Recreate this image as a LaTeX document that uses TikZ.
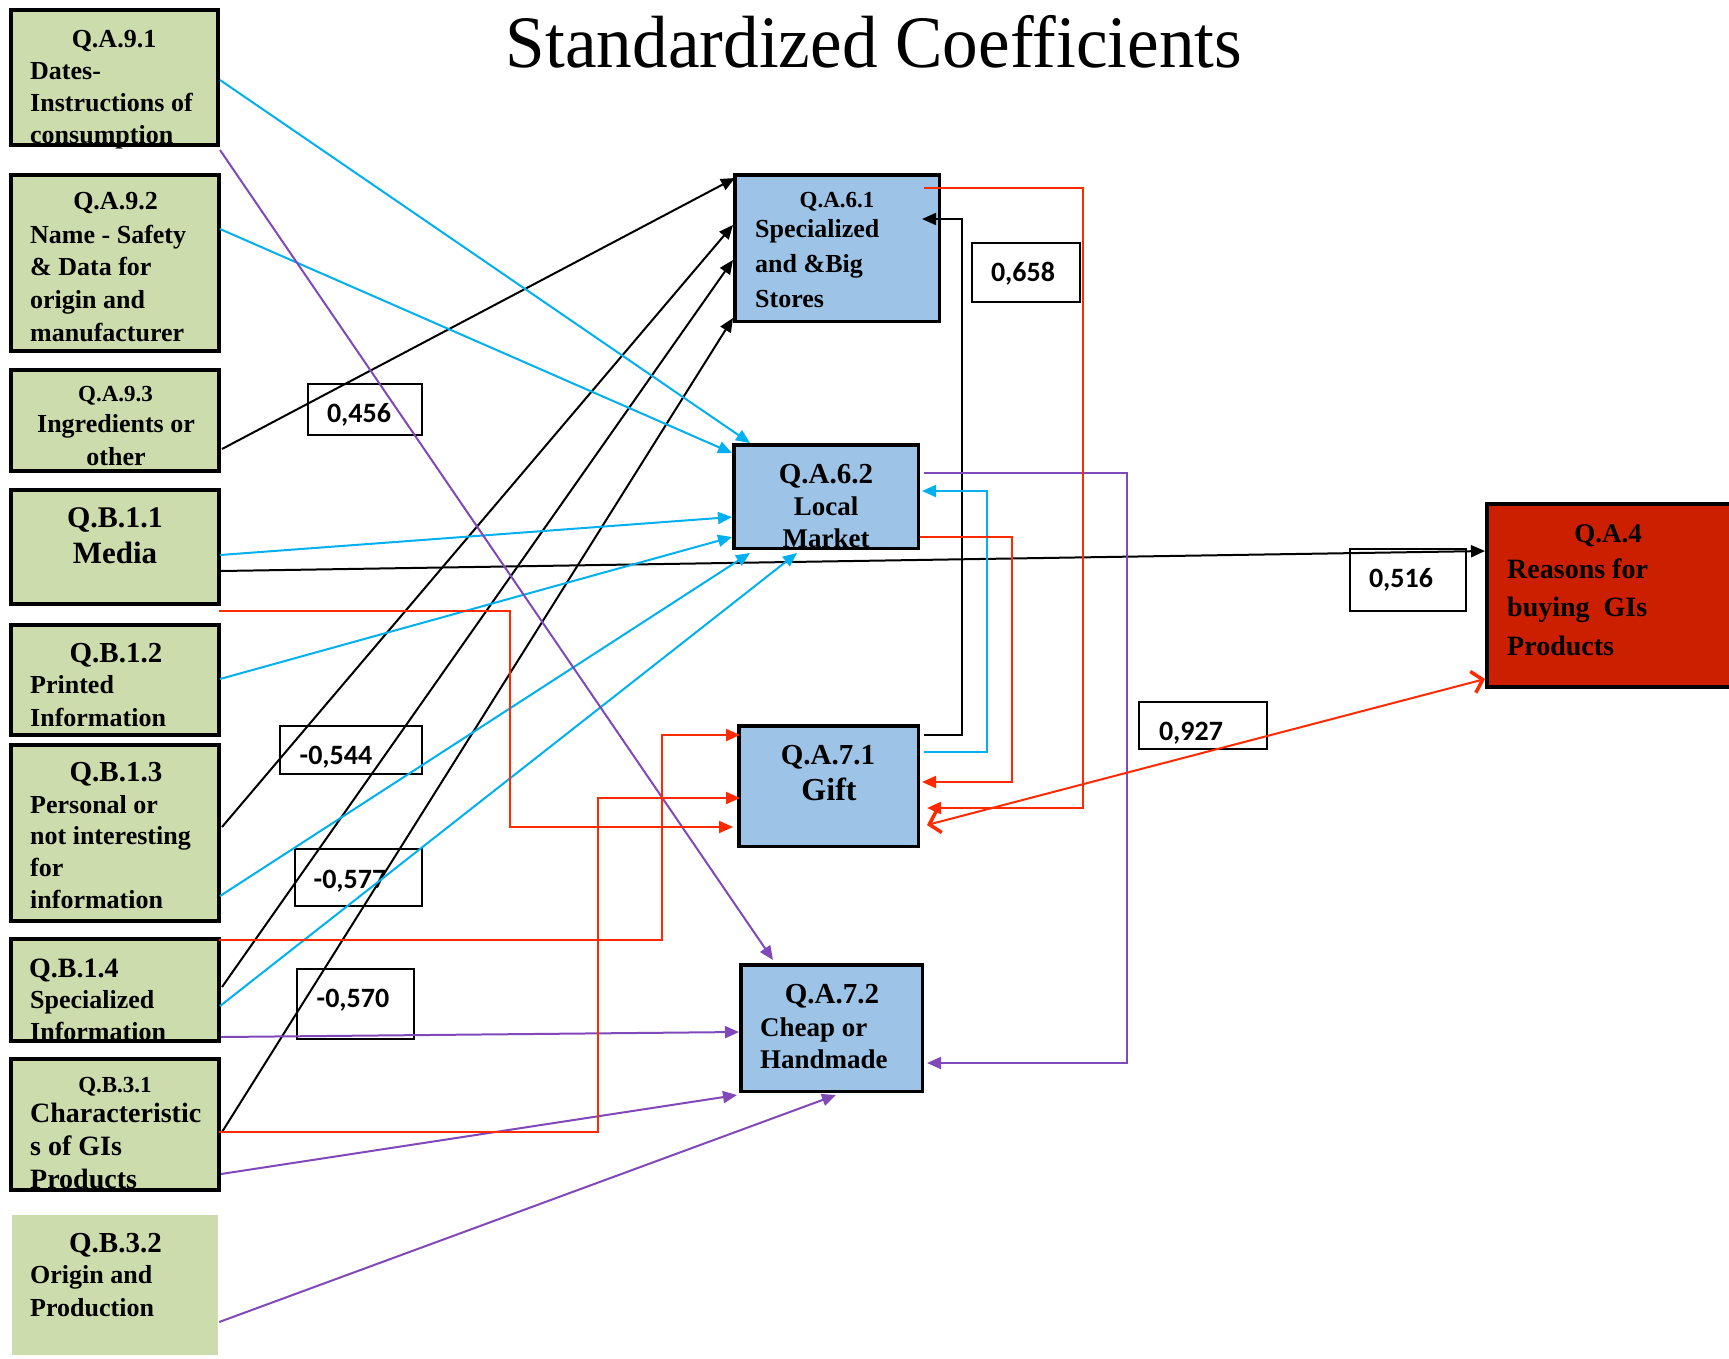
\documentclass[tikz,border=0pt]{standalone}
\usepackage{fontspec}
\usepackage{graphicx}
\setmainfont{Liberation Serif}
\newfontfamily\lblfont{Carlito}
\usetikzlibrary{arrows.meta,calc}
\definecolor{boxgreen}{RGB}{205,220,172}
\definecolor{boxblue}{RGB}{157,195,230}
\definecolor{boxred}{RGB}{204,31,0}
\definecolor{lcyan}{RGB}{0,176,240}
\definecolor{lpurple}{RGB}{128,72,184}
\definecolor{lred}{RGB}{255,42,0}
\newcommand\fsz[2]{\fontsize{#1}{#2}\selectfont}
\newcommand\llines[1]{\begin{tabular}[t]{@{}l@{}}#1\end{tabular}}
\newcommand\clines[1]{\begin{tabular}[t]{@{}c@{}}#1\end{tabular}}
\begin{document}
\begin{tikzpicture}[x=1pt,y=-1pt,
  gbox/.style={draw=black,line width=4pt,fill=boxgreen,inner sep=0pt},
  bbox/.style={draw=black,line width=3.5pt,fill=boxblue,inner sep=0pt},
  rbox/.style={draw=black,line width=4pt,fill=boxred,inner sep=0pt},
  lbox/.style={draw=black,line width=1.8pt,inner sep=0pt},
  ltext/.style={inner sep=0pt,anchor=base,font=\lblfont\bfseries\fsz{28}{32}},
  hd/.style={inner sep=0pt,anchor=base},
  bd/.style={inner sep=0pt,anchor=base west},
  bc/.style={inner sep=0pt,anchor=base},
  tip/.style={-{Triangle[length=14pt,width=12pt]}},
  cyanl/.style={draw=lcyan,line width=2pt,tip,lcyan},
  blackl/.style={draw=black,line width=2pt,tip},
  purpl/.style={draw=lpurple,line width=2pt,tip,lpurple},
  redl/.style={draw=lred,line width=2pt,tip,lred},
]
\useasboundingbox (0,0) rectangle (1729,1358);

% title
\node[hd] (title) at (874,67) {\resizebox{736pt}{\height}{\fsz{74}{80}Standardized Coefficients}};

% left boxes
\node[gbox,minimum width=207pt,minimum height=135pt] (a91) at (114.5,77.5) {};
\node[gbox,minimum width=208pt,minimum height=176pt] (a92) at (115,263) {};
\node[gbox,minimum width=208pt,minimum height=101pt] (a93) at (115,420.5) {};
\node[gbox,minimum width=208pt,minimum height=114pt] (b11) at (115,547) {};
\node[gbox,minimum width=208pt,minimum height=110pt] (b12) at (115,680) {};
\node[gbox,minimum width=208pt,minimum height=176pt] (b13) at (115,833) {};
\node[gbox,minimum width=208pt,minimum height=102pt] (b14) at (115,990) {};
\node[gbox,minimum width=208pt,minimum height=131pt] (b31) at (115,1124.5) {};
\node[fill=boxgreen,inner sep=0pt,minimum width=206pt,minimum height=140pt] (b32) at (115,1285) {};

% middle boxes
\node[bbox,minimum width=204.5pt,minimum height=146.5pt] (a61) at (837,248) {};
\node[bbox,minimum width=184.5pt,minimum height=103.5pt] (a62) at (826,496.5) {};
\node[bbox,minimum width=179.5pt,minimum height=120.5pt] (a71) at (828.5,786) {};
\node[bbox,minimum width=181.5pt,minimum height=126.5pt] (a72) at (831.5,1028) {};
\node[rbox,minimum width=244pt,minimum height=183pt] (a4) at (1609,595.5) {};

% label boxes
\node[lbox,minimum width=114.2pt,minimum height=51.2pt] (l456) at (365,409.5) {};
\node[lbox,minimum width=142.2pt,minimum height=48.2pt] (l544) at (351,750) {};
\node[lbox,minimum width=127.2pt,minimum height=57.2pt] (l577) at (358.5,877.5) {};
\node[lbox,minimum width=117.2pt,minimum height=70.2pt] (l570) at (355.5,1004) {};
\node[lbox,minimum width=108.2pt,minimum height=59.2pt] (l658) at (1026,272.5) {};
\node[lbox,minimum width=116.2pt,minimum height=62.2pt] (l516) at (1408,580) {};
\node[lbox,minimum width=128.2pt,minimum height=47.2pt] (l927) at (1203,725.5) {};

% label texts
\node[ltext] (l456t) at (359,422) {0,456};
\node[ltext] (l544t) at (336,764) {-0,544};
\node[ltext] (l577t) at (350,888) {-0,577};
\node[ltext] (l570t) at (353,1007) {-0,570};
\node[ltext] (l658t) at (1023,281) {0,658};
\node[ltext] (l516t) at (1401,587) {0,516};
\node[ltext] (l927t) at (1191,740) {0,927};

% left box texts
\node[hd,font=\bfseries\fsz{26}{32}] (a91h) at (114,47) {Q.A.9.1};
\node[bd,font=\bfseries\fsz{26}{32}] (a91b) at (30,79) {\llines{Dates-\\Instructions of\\consumption}};
\node[hd,font=\bfseries\fsz{26}{32}] (a92h) at (115.5,209) {Q.A.9.2};
\node[bd,font=\bfseries\fsz{26}{32.7}] (a92b) at (30,243) {\llines{Name - Safety\\\& Data for\\origin and\\manufacturer}};
\node[hd,font=\bfseries\fsz{23}{32}] (a93h) at (115.5,401) {Q.A.9.3};
\node[bc,font=\bfseries\fsz{26}{33}] (a93b) at (116,432) {\clines{Ingredients or\\other}};
\node[hd,font=\bfseries\fsz{30}{36}] (b11h) at (115,527) {Q.B.1.1};
\node[hd,font=\bfseries\fsz{31}{36}] (b11b) at (115,563) {Media};
\node[hd,font=\bfseries\fsz{29}{33}] (b12h) at (116,662) {Q.B.1.2};
\node[bd,font=\bfseries\fsz{26}{33}] (b12b) at (30,693) {\llines{Printed\\Information}};
\node[hd,font=\bfseries\fsz{29}{33}] (b13h) at (116,781) {Q.B.1.3};
\node[bd,font=\bfseries\fsz{26}{31.7}] (b13b) at (30,813) {\llines{Personal or\\not interesting\\for\\information}};
\node[hd,anchor=base west,font=\bfseries\fsz{28}{33}] (b14h) at (29,977) {Q.B.1.4};
\node[bd,font=\bfseries\fsz{26}{32}] (b14b) at (30,1008) {\llines{Specialized\\Information}};
\node[hd,font=\bfseries\fsz{23}{33}] (b31h) at (115,1092) {Q.B.3.1};
\node[bd,font=\bfseries\fsz{28}{33}] (b31b) at (30,1122) {\llines{Characteristic\\s of GIs\\Products}};
\node[hd,font=\bfseries\fsz{29}{33}] (b32h) at (115.5,1252) {Q.B.3.2};
\node[bd,font=\bfseries\fsz{26}{33}] (b32b) at (30,1283) {\llines{Origin and\\Production}};

% middle box texts
\node[hd,font=\bfseries\fsz{23}{33}] (a61h) at (837,207) {Q.A.6.1};
\node[bd,font=\bfseries\fsz{26}{35}] (a61b) at (755,237) {\llines{Specialized\\and \&Big\\Stores}};
\node[hd,font=\bfseries\fsz{29}{33}] (a62h) at (826,483) {Q.A.6.2};
\node[bc,font=\bfseries\fsz{27}{32}] (a62b) at (826,515) {\clines{Local\\Market}};
\node[hd,font=\bfseries\fsz{29}{33}] (a71h) at (828,764) {Q.A.7.1};
\node[hd,font=\bfseries\fsz{32}{36}] (a71b) at (829,800) {Gift};
\node[hd,font=\bfseries\fsz{29}{33}] (a72h) at (832,1003) {Q.A.7.2};
\node[bd,font=\bfseries\fsz{27}{32}] (a72b) at (760,1036) {\llines{Cheap or\\Handmade}};
\node[hd,font=\bfseries\fsz{27}{33}] (a4h) at (1608,542) {Q.A.4};
\node[bd,font=\bfseries\fsz{28}{38.5}] (a4b) at (1507,578) {\llines{Reasons for\\buying\ \ GIs\\Products}};

% black connectors to Q.A.6.1
\draw[blackl] ([shift={(1,28.5)}]a93.east) -- ([shift={(2,5)}]a61.north west);
\draw[blackl] ([shift={(1,-6)}]b13.east) -- ([shift={(0,-23)}]a61.west);
\draw[blackl] ([shift={(1,-3)}]b14.east) -- ([shift={(0,12)}]a61.west);
\draw[blackl] ([shift={(1,7.5)}]b31.east) -- ([shift={(0,-5)}]a61.south west);
\draw[blackl] ([shift={(0,24)}]b11.east) -- ([shift={(0,-44.5)}]a4.west);
\draw[blackl] ([shift={(4,-51)}]a71.east) -| ([shift={(21,-29)}]a61.east) -- ([shift={(-19,-29)}]a61.east);

% cyan connectors to Q.A.6.2
\draw[cyanl] ([shift={(0,2.5)}]a91.east) -- ([shift={(18,0)}]a62.north west);
\draw[cyanl] ([shift={(-1,-34)}]a92.east) -- ([shift={(0,10)}]a62.north west);
\draw[cyanl] ([shift={(-1,8)}]b11.east) -- ([shift={(0,20.5)}]a62.west);
\draw[cyanl] ([shift={(-1,-1)}]b12.east) -- ([shift={(0,40.5)}]a62.west);
\draw[cyanl] ([shift={(-1,63)}]b13.east) -- ([shift={(18,3)}]a62.south west);
\draw[cyanl] ([shift={(-1,16)}]b14.east) -- ([shift={(65,3)}]a62.south west);
\draw[cyanl] ([shift={(4,-34)}]a71.east) -| ([shift={(67,-5.5)}]a62.east) -- ([shift={(2,-5.5)}]a62.east);

% purple connectors to Q.A.7.2
\draw[purpl] ([shift={(0,3)}]a91.south east) -- ([shift={(34,-3)}]a72.north west);
\draw[purpl] ([shift={(0,47)}]b14.east) -- ([shift={(0,4)}]a72.west);
\draw[purpl] ([shift={(0,49.5)}]b31.east) -- ([shift={(-2,2)}]a72.south west);
\draw[purpl] ([shift={(1,37)}]b32.east) -- ([shift={(97,2)}]a72.south west);
\draw[purpl] ([shift={(4,-23.5)}]a62.east) -| ([shift={(203,35)}]a72.east) -- ([shift={(3,35)}]a72.east);

% red connectors to Q.A.7.1
\draw[redl] ([shift={(-2,5)}]b11.south east) -| ([shift={(-227,41)}]a71.west) -- ([shift={(-4,41)}]a71.west);
\draw[redl] ([shift={(-2,3)}]b14.north east) -| ([shift={(-75,11)}]a71.north west) -- ([shift={(3,11)}]a71.north west);
\draw[redl] ([shift={(-2,7.5)}]b31.east) -| ([shift={(-139,12)}]a71.west) -- ([shift={(3,12)}]a71.west);
\draw[redl] ([shift={(-17,-60)}]a61.east) -| ([shift={(163,22)}]a71.east) -- ([shift={(7,22)}]a71.east);
\draw[redl] ([shift={(0,40.5)}]a62.east) -| ([shift={(92,-4)}]a71.east) -- ([shift={(2,-4)}]a71.east);
\draw[draw=lred,line width=2pt,{Straight Barb[length=10pt,width=22pt,line width=3.5pt]}-{Straight Barb[length=10pt,width=22pt,line width=3.5pt]}]
  ([shift={(7,39)}]a71.east) -- ([shift={(0,-10)}]a4.south west);
\end{tikzpicture}
\end{document}
